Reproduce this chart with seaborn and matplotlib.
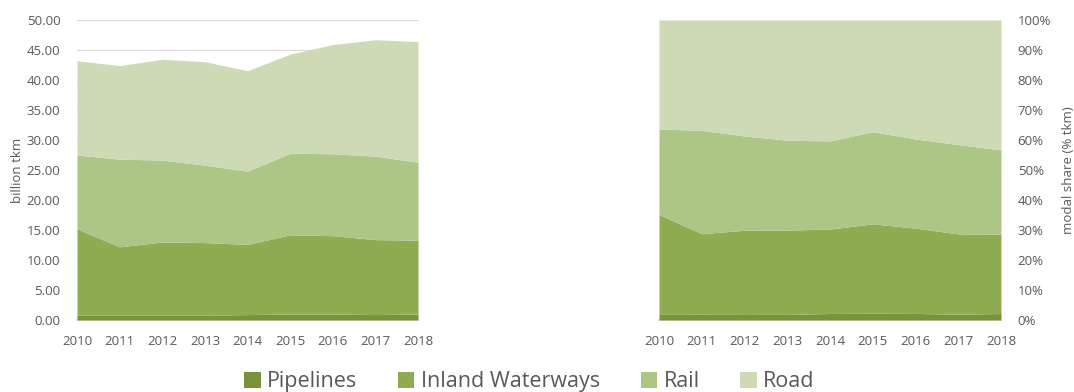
import numpy as np
import pandas as pd
import matplotlib
matplotlib.use("Agg")
import matplotlib.pyplot as plt
import seaborn as sns
from matplotlib.ticker import PercentFormatter

# freight transport performance, billion tkm
years = [2010, 2011, 2012, 2013, 2014, 2015, 2016, 2017, 2018]
pipelines = [0.8, 0.8, 0.8, 0.8, 0.9, 1.0, 1.0, 0.9, 1.0]
inland_waterways = [14.4, 11.4, 12.2, 12.1, 11.7, 13.2, 13.05, 12.5, 12.3]
rail = [12.3, 14.6, 13.65, 12.9, 12.2, 13.6, 13.65, 13.9, 13.0]
road = [15.7, 15.6, 16.8, 17.25, 16.75, 16.5, 18.2, 19.4, 20.1]

modes = ["Pipelines", "Inland Waterways", "Rail", "Road"]
colors = ["#77933c", "#8fad50", "#adc585", "#cddab5"]

df = pd.DataFrame({"Pipelines": pipelines, "Inland Waterways": inland_waterways,
                   "Rail": rail, "Road": road}, index=years)
share = df.div(df.sum(axis=1), axis=0) * 100

sns.set_theme(style="white")
plt.rcParams["font.family"] = ["Open Sans", "DejaVu Sans"]
tick_col = "#595959"

fig = plt.figure(figsize=(10.74, 3.92), dpi=100)
ax1 = fig.add_axes([0.0717, 0.1837, 0.3175, 0.7653])
ax2 = fig.add_axes([0.6136, 0.1837, 0.3184, 0.7653])

# left: absolute values
ax1.stackplot(df.index, [df[m] for m in modes], colors=colors, labels=modes,
              linewidth=0, zorder=3)
ax1.set_xlim(2010, 2018)
ax1.set_ylim(0, 50)
ax1.set_yticks(np.arange(0, 51, 5))
ax1.set_yticklabels([f"{v:.2f}" for v in np.arange(0, 51, 5)])
ax1.yaxis.grid(True, color="#d9d9d9", linewidth=0.8, zorder=0)
ax1.set_ylabel("billion tkm", fontsize=9.5, color=tick_col, labelpad=2)
sns.despine(ax=ax1, left=True)
ax1.spines["bottom"].set_color("#d9d9d9")

# right: modal share
ax2.stackplot(share.index, [share[m] for m in modes], colors=colors,
              linewidth=0, zorder=3)
ax2.set_xlim(2010, 2018)
ax2.set_ylim(0, 100)
ax2.set_yticks(np.arange(0, 101, 10))
ax2.yaxis.set_major_formatter(PercentFormatter(decimals=0))
ax2.yaxis.tick_right()
ax2.yaxis.set_label_position("right")
ax2.set_ylabel("modal share (% tkm)", fontsize=9.5, color=tick_col, labelpad=8)
sns.despine(ax=ax2, left=True, right=True, top=True)
ax2.spines["bottom"].set_color("#d9d9d9")

for ax in (ax1, ax2):
    ax.set_xticks(years)
    ax.tick_params(axis="y", labelsize=9.5, colors=tick_col, length=0, pad=12)
    ax.tick_params(axis="x", labelsize=9.5, colors=tick_col, length=0, pad=11)
    ax.set_facecolor("white")

handles, labels = ax1.get_legend_handles_labels()
fig.legend(handles, labels, loc="lower center", bbox_to_anchor=(0.493, -0.05), ncol=4,
           frameon=False, fontsize=15.5, handlelength=0.75, handleheight=0.75,
           handletextpad=0.3, columnspacing=1.9, labelcolor=tick_col)

fig.savefig("out.png", dpi=100, facecolor="white")
